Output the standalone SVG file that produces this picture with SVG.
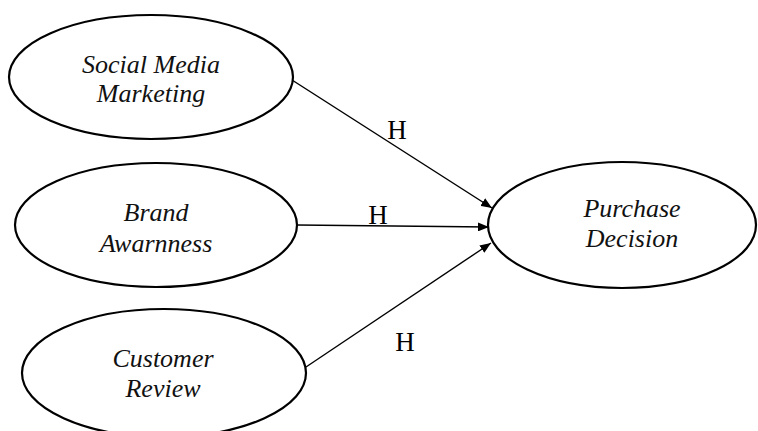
<svg xmlns="http://www.w3.org/2000/svg" width="758" height="431" viewBox="0 0 758 431">
<style>
.node ellipse{fill:#fff;stroke:#000;stroke-width:2.2}
.node text{font-style:italic;font-size:26px;text-anchor:middle;fill:#111}
.conn line{stroke:#000;stroke-width:1.4;marker-end:url(#ah)}
.lbl{font-size:27px;text-anchor:middle;fill:#000}
</style>
<defs>
<marker id="ah" viewBox="0 0 11 9" refX="11" refY="4.5" markerWidth="11" markerHeight="9" markerUnits="userSpaceOnUse" orient="auto">
<path d="M0,0 L11,4.5 L0,9 z" fill="#000"/>
</marker>
</defs>
<g id="connectors" class="conn">
<line x1="292" y1="80" x2="492" y2="208"/>
<line x1="297" y1="225" x2="489" y2="227"/>
<line x1="306" y1="367" x2="491" y2="243"/>
</g>
<g id="labels" font-family="Liberation Serif, Times New Roman, serif">
<text class="lbl" x="397" y="139">H</text>
<text class="lbl" x="378" y="224">H</text>
<text class="lbl" x="405" y="351">H</text>
</g>
<g id="smm" class="node" font-family="Liberation Serif, Times New Roman, serif">
<ellipse cx="151" cy="77" rx="142" ry="62"/>
<text x="151" y="73">Social Media</text>
<text x="151" y="102">Marketing</text>
</g>
<g id="ba" class="node" font-family="Liberation Serif, Times New Roman, serif">
<ellipse cx="156" cy="225" rx="141" ry="62"/>
<text x="156" y="221">Brand</text>
<text x="156" y="252">Awarnness</text>
</g>
<g id="cr" class="node" font-family="Liberation Serif, Times New Roman, serif">
<ellipse cx="164" cy="373" rx="142" ry="64"/>
<text x="163" y="367">Customer</text>
<text x="163" y="397">Review</text>
</g>
<g id="pd" class="node" font-family="Liberation Serif, Times New Roman, serif">
<ellipse cx="622" cy="225" rx="134" ry="63"/>
<text x="632" y="217">Purchase</text>
<text x="632" y="247">Decision</text>
</g>
</svg>
